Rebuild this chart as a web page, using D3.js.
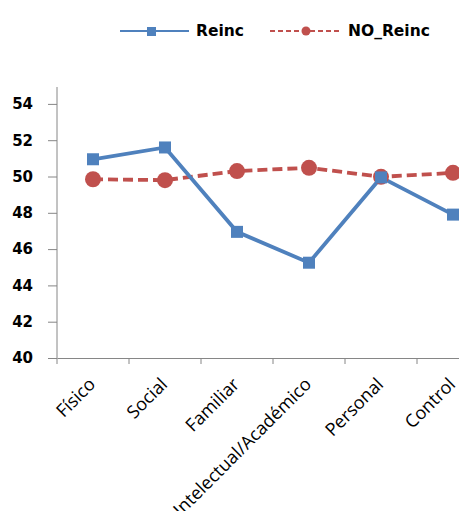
<!DOCTYPE html>
<html><head><meta charset="utf-8">
<script src="https://cdn.jsdelivr.net/npm/d3@7"></script>
<style>body{margin:0;background:#fff}svg{display:block}</style>
</head><body>
<script>
const categories = ["Físico","Social","Familiar","Intelectual/Académico","Personal","Control"];
const reinc = [50.95, 51.6, 46.95, 45.25, 49.95, 47.9];
const noReinc = [49.85, 49.8, 50.3, 50.48, 49.98, 50.2];
const yTicks = [40,42,44,46,48,50,52,54];
const seriesNames = ["Reinc","NO_Reinc"];

const W = 459, H = 511;
const svg = d3.select("body").append("svg").attr("width", W).attr("height", H);
const mLeft = 57, mTop = 87, mBottom = 358;
const x = d3.scaleBand().domain(categories).range([mLeft, mLeft + 72*6]);
const y = d3.scaleLinear().domain([40, 55]).range([mBottom, mBottom - 36.3*7.5]);

// y axis
const ya = svg.append("g").attr("transform", `translate(${mLeft},0)`)
  .call(d3.axisLeft(y).tickValues(yTicks).tickSize(9).tickPadding(15).tickFormat(d3.format("d")));
ya.select(".domain").attr("d", `M0,${mTop}V${mBottom}`);
ya.selectAll("line,path").attr("stroke", "#868686");
ya.selectAll("text").attr("font-family", "DejaVu Sans").attr("font-weight", "bold").attr("font-size", 15).attr("fill", "#000");

// x axis
const xa = svg.append("g").attr("transform", `translate(0,${mBottom})`)
  .call(d3.axisBottom(x).tickSize(0).tickFormat(""));
xa.selectAll(".tick").remove();
xa.select(".domain").attr("stroke", "#868686");
const tickPos = d3.range(7).map(i => mLeft + i * x.step());
xa.selectAll("line.t").data(tickPos).enter().append("line").attr("class","t")
  .attr("x1", d => d).attr("x2", d => d).attr("y1", 0).attr("y2", 6).attr("stroke", "#868686");
svg.append("g").selectAll("text").data(categories).enter().append("text")
  .attr("transform", d => `translate(${x(d) + x.bandwidth()/2 - 1},${mBottom + 23}) rotate(-45)`)
  .attr("text-anchor", "end").attr("dy", "0.35em")
  .attr("font-family", "Open Sans").attr("font-size", 18).attr("fill", "#000")
  .text(d => d);

const cx = d => x(d) + x.bandwidth()/2;
const blue = "#4F81BD", red = "#C0504D";
const line = d3.line().x((d,i) => cx(categories[i])).y(d => y(d));

svg.append("path").datum(noReinc).attr("d", line).attr("fill","none")
  .attr("stroke", red).attr("stroke-width", 3.8).attr("stroke-dasharray", "10,5");
svg.append("path").datum(reinc).attr("d", line).attr("fill","none")
  .attr("stroke", blue).attr("stroke-width", 3.8);
svg.append("g").selectAll("circle").data(noReinc).enter().append("circle")
  .attr("cx", (d,i) => cx(categories[i])).attr("cy", d => y(d)).attr("r", 8).attr("fill", red);
svg.append("g").selectAll("rect").data(reinc).enter().append("rect")
  .attr("x", (d,i) => cx(categories[i]) - 6).attr("y", d => y(d) - 6)
  .attr("width", 12).attr("height", 12).attr("fill", blue);

// legend
const lg = svg.append("g");
lg.append("line").attr("x1",120).attr("x2",189).attr("y1",31).attr("y2",31).attr("stroke",blue).attr("stroke-width",2);
lg.append("rect").attr("x",147).attr("y",27).attr("width",9).attr("height",9).attr("fill",blue);
lg.append("text").attr("x",196).attr("y",31).attr("dy","0.35em").attr("font-family","DejaVu Sans").attr("font-weight","bold").attr("font-size",15.5).text(seriesNames[0]);
lg.append("line").attr("x1",270).attr("x2",339).attr("y1",31).attr("y2",31).attr("stroke",red).attr("stroke-width",2).attr("stroke-dasharray","5,3");
lg.append("circle").attr("cx",306).attr("cy",31).attr("r",4.5).attr("fill",red);
lg.append("text").attr("x",348).attr("y",31).attr("dy","0.35em").attr("font-family","DejaVu Sans").attr("font-weight","bold").attr("font-size",15.5).text(seriesNames[1]);
</script>
</body></html>
